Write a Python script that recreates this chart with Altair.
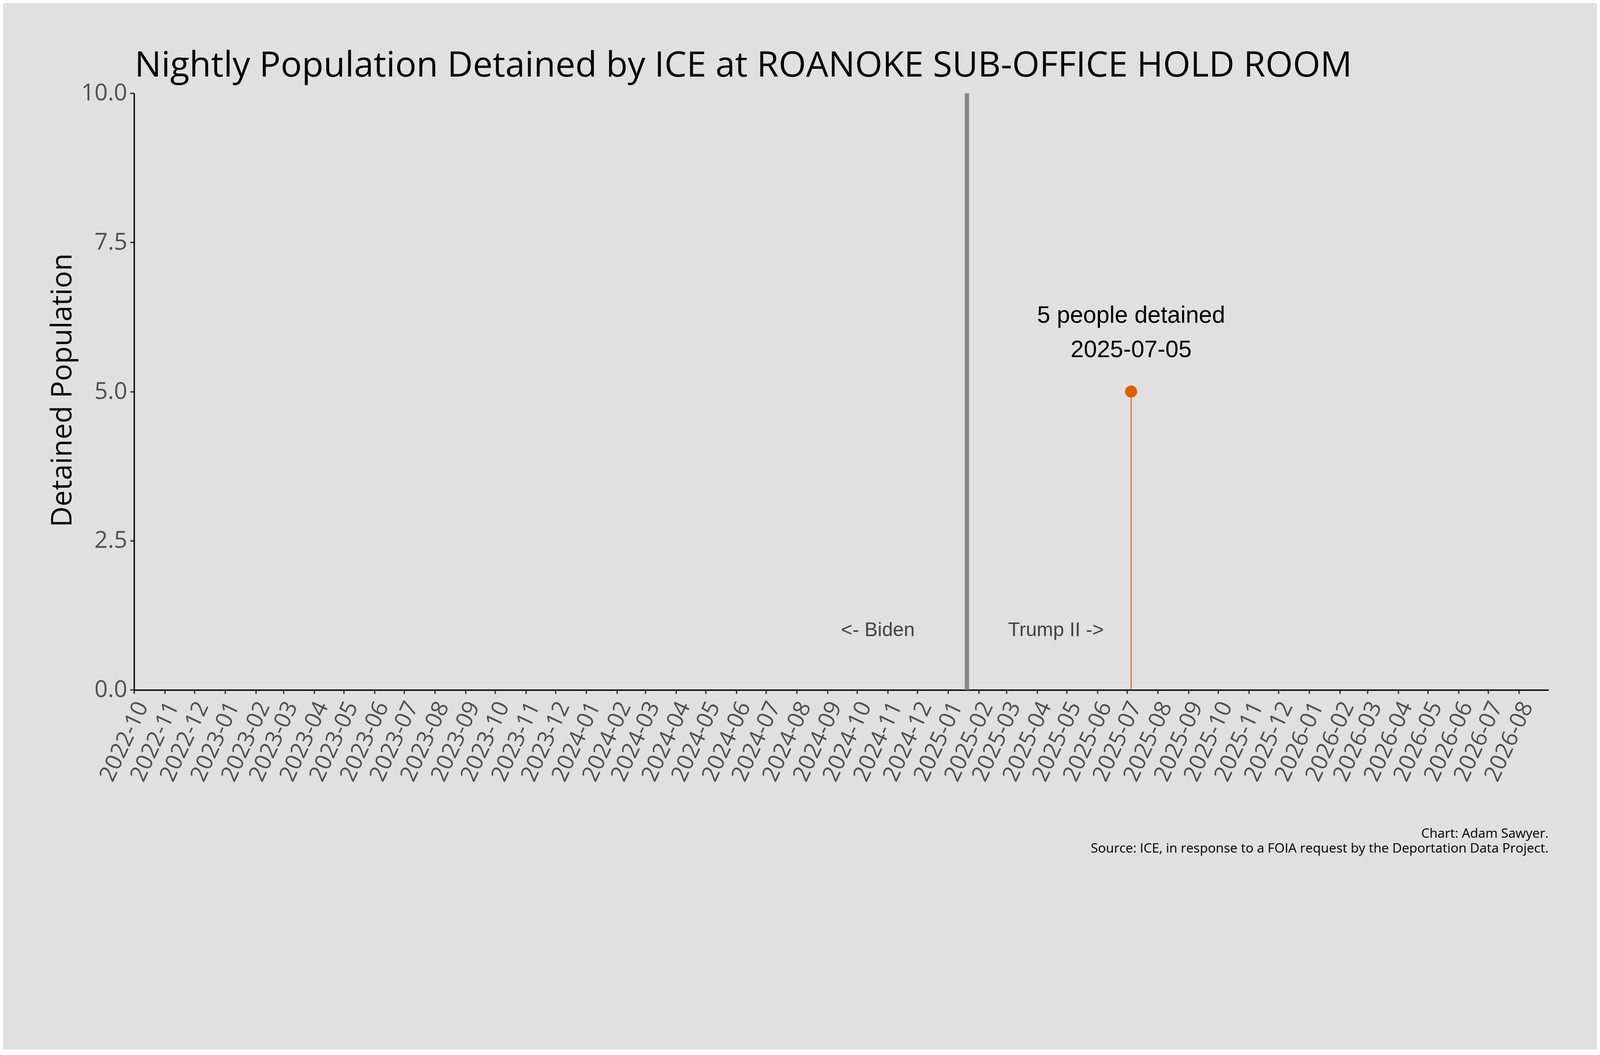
import altair as alt
import pandas as pd

# ---- data ----
obs_dates = ["2025-07-05"]
obs_values = [5]

divider_dates = ["2025-01-20"]

era_labels = ["<- Biden", "Trump II ->"]
era_dates = ["2024-10-22", "2025-04-20"]
era_y = [1, 1]

x_domain = ["2022-10-01", "2026-08-31"]
y_ticks = [0, 2.5, 5, 7.5, 10]

title_text = "Nightly Population Detained by ICE at ROANOKE SUB-OFFICE HOLD ROOM"
footer_lines = [
    "Chart: Adam Sawyer.",
    "Source: ICE, in response to a FOIA request by the Deportation Data Project.",
]

obs = pd.DataFrame({"date": obs_dates, "value": obs_values})
obs["line1"] = [f"{v} people detained" for v in obs_values]
obs["line2"] = obs_dates
obs["zero"] = 0

div = pd.DataFrame({"date": divider_dates})
era = pd.DataFrame({"date": era_dates, "y": era_y, "label": era_labels})
title_df = pd.DataFrame({"t": [title_text]})
footer_df = pd.DataFrame({"t": [footer_lines]})

# layout is designed on a 4784-px wide canvas and scaled to 4096 px
S = 4096 / 4784


def s(v):
    return v * S


W, H = s(4246), s(1791)
ORANGE = "#db6000"

xscale = alt.Scale(type="utc", domain=x_domain, nice=False)
yscale = alt.Scale(domain=[0, 10], nice=False, zero=True)

xaxis = alt.Axis(
    format="%Y-%m",
    tickCount={"interval": "month", "step": 1},
    labelAngle=295,
    labelAlign="right",
    labelBaseline="middle",
    labelOffset=s(25),
    labelPadding=s(28),
    labelFlush=False,
    labelOverlap=False,
    labelLimit=s(600),
    labelFont="Open Sans",
    labelFontSize=s(68),
    labelColor="#505050",
    tickSize=s(11),
    tickWidth=s(4),
    tickColor="#333333",
    domainColor="#000000",
    domainWidth=s(4),
    grid=False,
    title=None,
)

yaxis = alt.Axis(
    values=y_ticks,
    format=".1f",
    labelFont="Open Sans",
    labelFontSize=s(70),
    labelColor="#505050",
    labelPadding=s(9),
    labelFlush=False,
    tickSize=s(12),
    tickWidth=s(4),
    tickColor="#333333",
    domainColor="#000000",
    domainWidth=s(4),
    grid=False,
    title="Detained Population",
    titleFont="Open Sans",
    titleFontSize=s(86),
    titleFontWeight="normal",
    titleColor="#000000",
    titleAngle=270,
    titleAlign="center",
    titleBaseline="alphabetic",
    titleX=s(-188),
    titleY=s(891),
)

base_x = alt.X("date:T", scale=xscale, axis=xaxis)

divider = alt.Chart(div).mark_rule(color="#888888", strokeWidth=s(13)).encode(
    x=alt.X("date:T", scale=xscale, axis=xaxis)
)

stem = alt.Chart(obs).mark_rule(color=ORANGE, strokeWidth=s(3)).encode(
    x=base_x,
    y=alt.Y("zero:Q", scale=yscale, axis=yaxis),
    y2="value:Q",
)

dots = alt.Chart(obs).mark_circle(color=ORANGE, opacity=1, size=1320 * S * S).encode(
    x=base_x,
    y=alt.Y("value:Q", scale=yscale, axis=yaxis),
)

ann1 = alt.Chart(obs).mark_text(
    font="Liberation Sans", fontSize=s(71), color="#000000",
    align="center", baseline="alphabetic", dy=s(-206),
).encode(x=base_x, y=alt.Y("value:Q", scale=yscale, axis=yaxis), text="line1:N")

ann2 = alt.Chart(obs).mark_text(
    font="Liberation Sans", fontSize=s(71), color="#000000",
    align="center", baseline="alphabetic", dy=s(-103),
).encode(x=base_x, y=alt.Y("value:Q", scale=yscale, axis=yaxis), text="line2:N")

eras = alt.Chart(era).mark_text(
    font="Liberation Sans", fontSize=s(59), color="#444444",
    align="center", baseline="middle",
).encode(x=base_x, y=alt.Y("y:Q", scale=yscale, axis=yaxis), text="label:N")

title_mark = alt.Chart(title_df).mark_text(
    font="Open Sans", fontSize=s(106), color="#000000",
    align="left", baseline="alphabetic", dx=s(2),
).encode(x=alt.value(0), y=alt.value(s(-50)), text="t:N")

footer_mark = alt.Chart(footer_df).mark_text(
    font="Open Sans", fontSize=s(39.5), color="#000000",
    align="right", baseline="alphabetic", lineHeight=s(45),
).encode(x=alt.value(W), y=alt.value(H + s(443)), text="t:N")

chart = alt.layer(divider, stem, dots, ann1, ann2, eras, title_mark, footer_mark).properties(
    width=W,
    height=H,
    padding={"left": s(393), "top": s(264), "right": s(145), "bottom": s(629) + 380},
    autosize=alt.AutoSizeParams(type="none"),
    background="#e0e0e0",
).configure_view(stroke=None)

chart.save("out.html", embed_options={"renderer": "svg", "actions": False})
